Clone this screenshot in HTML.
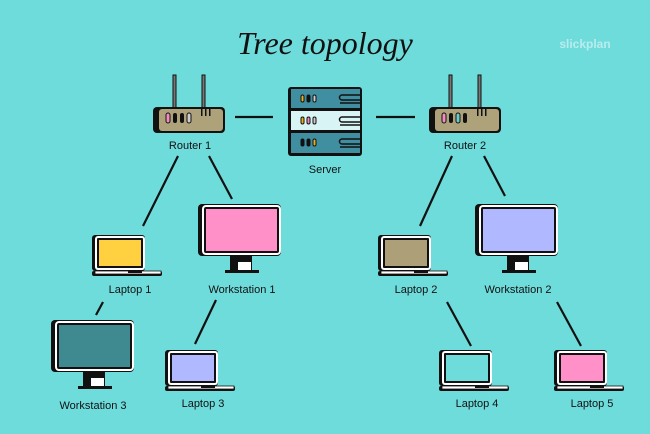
<!DOCTYPE html>
<html><head><style>
html,body{margin:0;padding:0;width:650px;height:434px;overflow:hidden;background:#6fdcdc}
svg{display:block}
text{font-family:"Liberation Sans",sans-serif;font-size:11px;fill:#111;text-anchor:middle}
</style></head><body>
<svg width="650" height="434" viewBox="0 0 650 434">
<rect width="650" height="434" fill="#6fdcdc"/>
<text x="325" y="54" style="font-family:'Liberation Serif',serif;font-style:italic;font-size:32px;fill:#111">Tree topology</text>
<text x="585" y="48" style="font-size:12px;fill:#b9ecec;font-weight:bold">slickplan</text>
<g stroke="#111" stroke-width="2.2" fill="none">
<line x1="235" y1="117" x2="273" y2="117"/><line x1="376" y1="117" x2="415" y2="117"/>
<line x1="178" y1="156" x2="143" y2="226"/><line x1="209" y1="156" x2="232" y2="199"/>
<line x1="452" y1="156" x2="420" y2="226"/><line x1="484" y1="156" x2="505" y2="196"/>
<line x1="103" y1="302" x2="96" y2="315"/><line x1="216" y1="300" x2="195" y2="344"/>
<line x1="447" y1="302" x2="471" y2="346"/><line x1="557" y1="302" x2="581" y2="346"/>
</g>
<defs>
<g id="router">
<rect x="20" y="0" width="3" height="34" fill="#777" stroke="#111" stroke-width="1"/>
<rect x="49" y="0" width="3" height="34" fill="#777" stroke="#111" stroke-width="1"/>
<rect x="0" y="32" width="72" height="26" rx="4" fill="#111"/>
<rect x="6" y="34" width="64" height="22" rx="3" fill="#aea27a"/>
<rect x="48" y="34" width="1.5" height="7" fill="#111"/><rect x="52" y="34" width="1.5" height="7" fill="#111"/><rect x="56" y="34" width="1.5" height="7" fill="#111"/>
</g>
<g id="laptop">
<rect x="-2" y="0" width="53" height="36" rx="3" fill="#111"/>
<rect x="1" y="1" width="50" height="34" rx="3" fill="#fff"/>
<rect x="3" y="3" width="46" height="30" rx="1" fill="#111"/>
<rect x="5" y="5" width="42" height="26"/>
<rect x="-2" y="36" width="70" height="5" rx="2" fill="#111"/>
<rect x="1" y="36" width="66" height="3" fill="#fff"/>
<rect x="1" y="36" width="66" height="3" fill="none" stroke="#111" stroke-width="0.8"/>
<rect x="34" y="36" width="14" height="2" fill="#111"/>
</g>
<g id="mon">
<rect x="-3" y="0" width="83" height="52" rx="4" fill="#111"/>
<rect x="1" y="1" width="79" height="50" rx="4" fill="#fff"/>
<rect x="3" y="3" width="75" height="46" rx="2" fill="#111"/>
<rect x="5" y="5" width="71" height="42"/>
<rect x="29" y="52" width="22" height="15" fill="#111"/>
<rect x="37" y="58" width="13" height="9" fill="#fff"/>
<rect x="24" y="66" width="34" height="3" fill="#111"/>
</g>
</defs>
<use href="#router" x="153" y="75"/>
<use href="#router" x="429" y="75"/>
<g fill="#111">
<rect x="166" y="113" width="4" height="10" rx="2" fill="#f08cc0" stroke="#111"/><rect x="173" y="113" width="4" height="10" rx="2"/><rect x="180" y="113" width="4" height="10" rx="2"/><rect x="187" y="113" width="4" height="10" rx="2" fill="#ccc" stroke="#111"/>
<rect x="442" y="113" width="4" height="10" rx="2" fill="#f08cc0" stroke="#111"/><rect x="449" y="113" width="4" height="10" rx="2"/><rect x="456" y="113" width="4" height="10" rx="2" fill="#6cc" stroke="#111"/><rect x="463" y="113" width="4" height="10" rx="2"/>
</g>
<!-- server -->
<g>
<rect x="288" y="87" width="74" height="69" rx="3" fill="#111"/>
<rect x="291" y="89" width="69" height="19" fill="#3f8fa0"/>
<rect x="291" y="111" width="69" height="19" fill="#d8f4f4"/>
<rect x="291" y="133" width="69" height="20" fill="#3f8fa0"/>
<g fill="#111" stroke="#111">
<rect x="301" y="95" width="3" height="7" rx="1.5" fill="#e6b020"/><rect x="307" y="95" width="3" height="7" rx="1.5"/><rect x="313" y="95" width="3" height="7" rx="1.5" fill="#ccc"/>
<rect x="301" y="117" width="3" height="7" rx="1.5" fill="#e6b020"/><rect x="307" y="117" width="3" height="7" rx="1.5" fill="#f08cc0"/><rect x="313" y="117" width="3" height="7" rx="1.5" fill="#ccc"/>
<rect x="301" y="139" width="3" height="7" rx="1.5"/><rect x="307" y="139" width="3" height="7" rx="1.5"/><rect x="313" y="139" width="3" height="7" rx="1.5" fill="#e6b020"/>
</g>
<g fill="none" stroke="#111" stroke-width="1.5">
<path d="M360 95h-18a2 2 0 0 0 0 5h18M360 103h-20"/>
<path d="M360 117h-18a2 2 0 0 0 0 5h18M360 125h-20"/>
<path d="M360 139h-18a2 2 0 0 0 0 5h18M360 147h-20"/>
</g>
</g>
<use href="#laptop" x="94" y="235" fill="#ffd040"/>
<use href="#laptop" x="167" y="350" fill="#b0b8ff"/>
<use href="#laptop" x="380" y="235" fill="#ada078"/>
<use href="#laptop" x="441" y="350" fill="#6fdcdc"/>
<use href="#laptop" x="556" y="350" fill="#ff90c8"/>
<use href="#mon" x="201" y="204" fill="#ff90c8"/>
<use href="#mon" x="54" y="320" fill="#3f8a90"/>
<use href="#mon" x="478" y="204" fill="#b0b8ff"/>
<text x="190" y="149">Router 1</text>
<text x="325" y="173">Server</text>
<text x="465" y="149">Router 2</text>
<text x="130" y="293">Laptop 1</text>
<text x="242" y="293">Workstation 1</text>
<text x="93" y="409">Workstation 3</text>
<text x="203" y="407">Laptop 3</text>
<text x="416" y="293">Laptop 2</text>
<text x="518" y="293">Workstation 2</text>
<text x="477" y="407">Laptop 4</text>
<text x="592" y="407">Laptop 5</text>
</svg>
</body></html>
